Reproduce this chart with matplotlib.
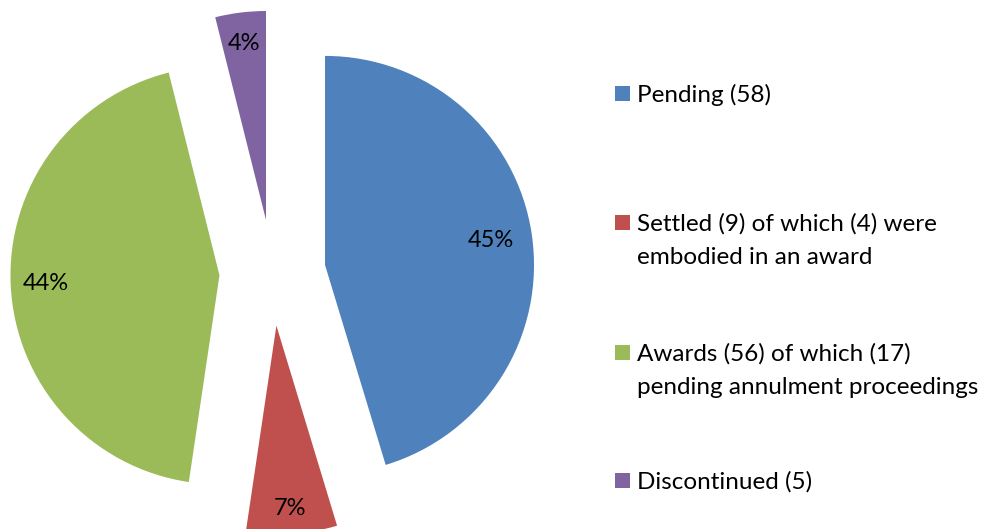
import numpy as np
import matplotlib.pyplot as plt
from matplotlib.patches import Rectangle

LABELS = ["Pending (58)",
          "Settled (9) of which (4) were\nembodied in an award",
          "Awards (56) of which (17)\npending annulment proceedings",
          "Discontinued (5)"]
VALUES = [58, 9, 56, 5]
COLORS = ["#4F81BD", "#C0504D", "#9BBB59", "#8064A2"]
EXPLODE = [0.254, 0.254, 0.254, 0.254]
PCT_DIST = [0.80, 0.875, 0.83, 0.85]

FONT = "Lato"
FS_LEG = 17.5
FS_PCT = 17

W, H = 992, 529
R_PX = 209.0
CX, CY = 272.5, 272.7  # pie centre in pixels from top-left

fig = plt.figure(figsize=(W / 100, H / 100), dpi=100)
ax = fig.add_axes([0, 0, 1, 1])

wedges, _ = ax.pie(VALUES, colors=COLORS, explode=EXPLODE, startangle=90,
                   counterclock=False, radius=1, frame=True)
ax.set_xlim(-CX / R_PX, (W - CX) / R_PX)
ax.set_ylim(-(H - CY) / R_PX, CY / R_PX)
ax.set_aspect("equal")
ax.axis("off")

total = float(sum(VALUES))
for w, v, dist in zip(wedges, VALUES, PCT_DIST):
    th = np.deg2rad((w.theta1 + w.theta2) / 2)
    x0, y0 = w.center
    ax.text(x0 + dist * w.r * np.cos(th), y0 + dist * w.r * np.sin(th),
            "{:.0f}%".format(100 * v / total), ha="center", va="center",
            fontsize=FS_PCT, family=FONT, color="black")

# legend drawn in pixel coordinates
lg = fig.add_axes([0, 0, 1, 1])
lg.set_xlim(0, W)
lg.set_ylim(H, 0)
lg.axis("off")
LEG_Y = [93, 222.5, 352.5, 480.5]
for label, color, y in zip(LABELS, COLORS, LEG_Y):
    lg.add_patch(Rectangle((615, y - 7.5), 15, 15, color=color, lw=0))
    lines = label.split("\n")
    for i, line in enumerate(lines):
        lg.text(637, y + 8.5 + i * 33.4, line, ha="left", va="baseline",
                fontsize=FS_LEG, family=FONT, color="black")

fig.savefig("out.png", dpi=100)
